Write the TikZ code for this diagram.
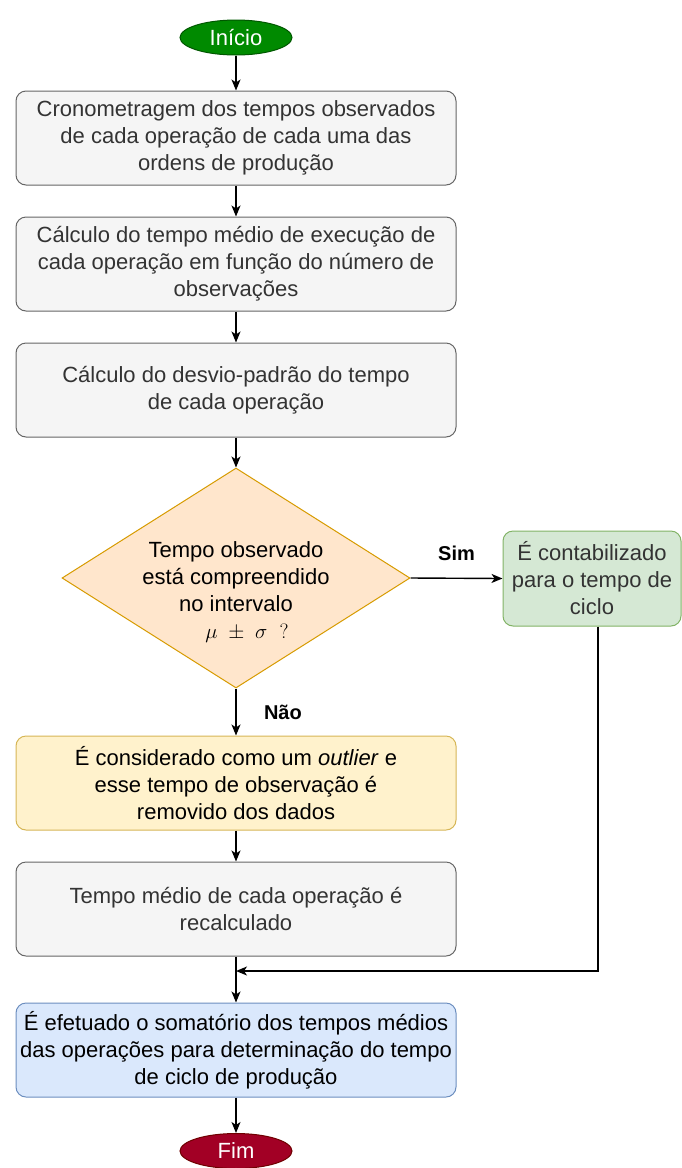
\documentclass[tikz,border=0pt]{standalone}
\usepackage{fontspec}
\setmainfont{Liberation Sans}
\usetikzlibrary{shapes.geometric,arrows.meta}
\definecolor{grayfill}{HTML}{F5F5F5}
\definecolor{graystroke}{HTML}{666666}
\definecolor{graytext}{HTML}{333333}
\definecolor{startfill}{HTML}{008A00}
\definecolor{startstroke}{HTML}{005700}
\definecolor{endfill}{HTML}{A20025}
\definecolor{endstroke}{HTML}{6F0000}
\definecolor{decfill}{HTML}{FFE6CC}
\definecolor{decstroke}{HTML}{D79B00}
\definecolor{yesfill}{HTML}{D5E8D4}
\definecolor{yesstroke}{HTML}{82B366}
\definecolor{outfill}{HTML}{FFF2CC}
\definecolor{outstroke}{HTML}{D6B656}
\definecolor{sumfill}{HTML}{DAE8FC}
\definecolor{sumstroke}{HTML}{6C8EBF}
\tikzset{
  txt/.style={font=\fontsize{22}{27}\selectfont, align=center},
  procbox/.style={txt, draw=graystroke, fill=grayfill, text=graytext, rounded corners=10pt,
    minimum width=440pt, minimum height=94pt, line width=1pt, inner sep=0pt},
  term/.style={ellipse, txt, text=white, minimum width=112pt, minimum height=35pt, inner sep=0pt, line width=1pt},
  dec/.style={diamond, draw=decstroke, fill=decfill, minimum width=348pt, minimum height=220pt, inner sep=0pt, line width=1pt},
  conn/.style={line width=1.4pt, -{Stealth[length=11pt,width=9pt,inset=3pt]}},
  lbl/.style={font=\fontsize{20}{24}\selectfont\bfseries}
}
\begin{document}
\begin{tikzpicture}[x=1pt,y=-1pt]
\useasboundingbox (0,0) rectangle (681,1168);
\node[term, fill=startfill, draw=startstroke] (start) at (236,37.5) {Início};
\node[procbox] (b1) at (236,138) {Cronometragem dos tempos observados\\de cada operação de cada uma das\\ordens de produção};
\node[procbox] (b2) at (236,264) {Cálculo do tempo médio de execução de\\cada operação em função do número de\\observações};
\node[procbox] (b3) at (236,390) {Cálculo do desvio-padrão do tempo\\de cada operação};
\node[dec] (d) at (236,578) {};
\node[txt, text=black] (dt) at (236,592) {Tempo observado\\está compreendido\\no intervalo\\\hspace*{22pt}$\mu\ \pm\ \sigma\ \ ?$};
\node[txt, draw=yesstroke, fill=yesfill, text=graytext, rounded corners=10pt, minimum width=178pt, minimum height=95pt, inner sep=0pt, line width=1pt] (yes) at (592,578.5) {É contabilizado\\para o tempo de\\ciclo};
\node[procbox, draw=outstroke, fill=outfill, text=black] (out) at (236,783) {É considerado como um \textit{outlier} e\\esse tempo de observação é\\removido dos dados};
\node[procbox] (b4) at (236,909) {Tempo médio de cada operação é\\recalculado};
\node[procbox, draw=sumstroke, fill=sumfill, text=black] (sum) at (236,1050) {É efetuado o somatório dos tempos médios\\das operações para determinação do tempo\\de ciclo de produção};
\node[term, fill=endfill, draw=endstroke] (fim) at (236,1151) {Fim};
\coordinate (m) at (236,971);
\draw[conn] (start) -- (b1);
\draw[conn] (b1) -- (b2);
\draw[conn] (b2) -- (b3);
\draw[conn] (b3) -- (d);
\draw[conn] (d.east) -- (yes.west) node[lbl, pos=0.5, above=14pt] {Sim};
\draw[conn] (d.south) -- (out.north) node[lbl, midway, right=24pt] {Não};
\draw[conn] (out) -- (b4);
\draw[line width=1.4pt] (b4.south) -- (m);
\draw[conn] (m) -- (sum);
\draw[conn] (yes.south -| 598,0) |- (m);
\draw[conn] (sum) -- (fim);
\end{tikzpicture}
\end{document}
